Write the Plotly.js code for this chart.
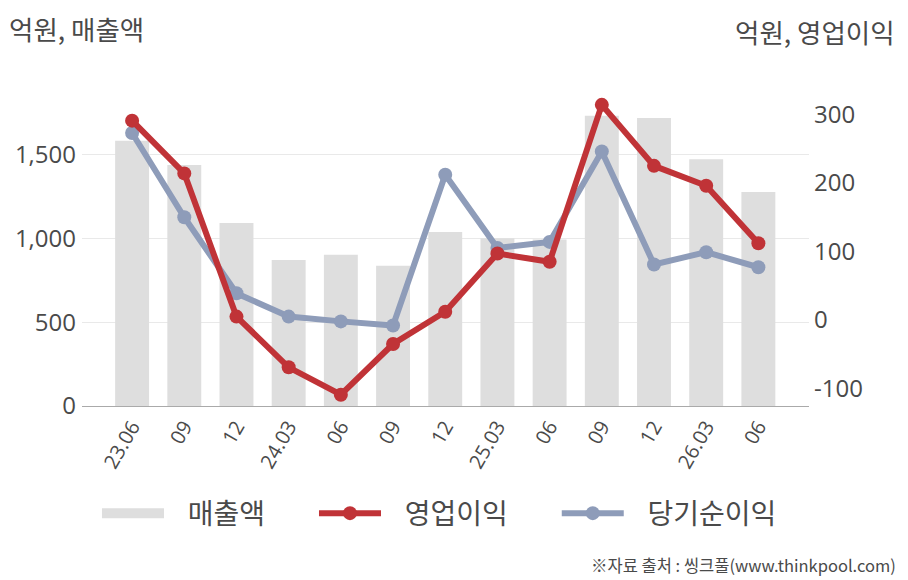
<!DOCTYPE html>
<html>
<head>
<meta charset="utf-8">
<script src="https://cdn.plot.ly/plotly-3.0.1.min.js"></script>
<style>
  html, body { margin: 0; padding: 0; background: #fff; }
  #chart { width: 908px; height: 580px; }
</style>
</head>
<body>
<div id="chart"></div>
<script>
'use strict';

// quarters (YY.MM), shown as in the source
var quarters = ['23.06', '09', '12', '24.03', '06', '09', '12', '25.03', '06', '09', '12', '26.03', '06'];

// 매출액 (억원), left axis
var sales = [1585, 1440, 1093, 872, 904, 838, 1039, 1003, 995, 1734, 1720, 1475, 1278];

// 영업이익 (억원), right axis
var opProfit = [291, 214, 5, -69, -109, -35, 12, 97, 85, 314, 225, 196, 112];

// 당기순이익 (억원), right axis
var netProfit = [273, 150, 39, 5, -2, -8, 212, 105, 114, 246, 81, 99, 77];

// axis ticks
var leftTicks = [0, 500, 1000, 1500];
var rightTicks = [-100, 0, 100, 200, 300];
var rightTickText = ['-100', '0', '100', '200', '300'];

var FONT = '"Open Sans", "Noto Sans CJK KR", sans-serif';
var KFONT = '"Noto Sans CJK KR", "Open Sans", sans-serif';
var TXT = '#4a4a4a';

var idx = quarters.map(function (q, i) { return i; });

// legend labels padded with no-break spaces so the gaps look like the source
var NB = '\u00a0';
function pad(name, lead, trail) {
    return NB.repeat(lead) + name + NB.repeat(trail);
}

var traces = [
    {
        type: 'bar', name: '매출액', x: idx, y: sales,
        marker: { color: '#dedede' }, width: 0.65,
        showlegend: false
    },
    // legend entry for the bars: a wide grey swatch like the source
    {
        type: 'scatter', mode: 'lines', name: pad('매출액', 3, 7), x: [null], y: [null],
        line: { color: '#dedede', width: 19 }, legendrank: 1
    },
    {
        type: 'scatter', mode: 'lines+markers', name: pad('당기순이익', 3, 0), x: idx, y: netProfit,
        yaxis: 'y2', line: { color: '#8e9cb9', width: 6 },
        marker: { color: '#8e9cb9', size: 14 }, legendrank: 3
    },
    {
        type: 'scatter', mode: 'lines+markers', name: pad('영업이익', 3, 7), x: idx, y: opProfit,
        yaxis: 'y2', line: { color: '#c03337', width: 6 },
        marker: { color: '#c03337', size: 14 }, legendrank: 2
    }
];

var layout = {
    width: 908, height: 580,
    margin: { l: 82, r: 99, t: 90, b: 174 },
    paper_bgcolor: '#fff', plot_bgcolor: '#fff',
    font: { family: FONT, color: TXT, size: 22 },
    showlegend: true,
    legend: {
        orientation: 'h', x: 0.0206, xanchor: 'left', y: -0.34, yanchor: 'middle',
        font: { family: KFONT, size: 28, color: TXT },
        itemwidth: 62, traceorder: 'normal'
    },
    xaxis: {
        range: [-0.96, 12.97],
        tickmode: 'array', tickvals: idx, ticktext: quarters,
        tickangle: -60, tickfont: { size: 20, color: TXT },
        showgrid: false, zeroline: false,
        showline: true, linecolor: '#aaaaaa', linewidth: 1,
        ticks: ''
    },
    yaxis: {
        range: [0, 1888],
        tickvals: leftTicks, tickformat: ',d',
        showgrid: true, gridcolor: '#e9e9e9', gridwidth: 1,
        zeroline: false, showline: false, ticks: '',
        ticklabelstandoff: 5,
        tickfont: { size: 24, color: TXT }
    },
    yaxis2: {
        overlaying: 'y', side: 'right',
        range: [-125.5, 335.7],
        tickvals: rightTicks, ticktext: rightTickText,
        showgrid: false, zeroline: false, showline: false, ticks: '',
        ticklabelstandoff: 4,
        tickfont: { size: 24, color: TXT }
    },
    annotations: [
        {
            text: '억원, 매출액', xref: 'paper', yref: 'paper',
            x: 0, xshift: -75, y: 1, yshift: 62, xanchor: 'left', yanchor: 'middle',
            showarrow: false, font: { family: KFONT, size: 26.5, color: TXT }
        },
        {
            text: '억원, 영업이익', xref: 'paper', yref: 'paper',
            x: 1, xshift: 88, y: 1, yshift: 59, xanchor: 'right', yanchor: 'middle',
            showarrow: false, font: { family: KFONT, size: 26.5, color: TXT }
        },
        {
            text: '※자료 출처 : 씽크풀(www.thinkpool.com)', xref: 'paper', yref: 'paper',
            x: 1, xshift: 89, y: 0, yshift: -159, xanchor: 'right', yanchor: 'middle',
            showarrow: false, font: { family: KFONT, size: 16.5, color: TXT }
        }
    ]
};

Plotly.newPlot('chart', traces, layout, { displayModeBar: false, staticPlot: true });
</script>
</body>
</html>
